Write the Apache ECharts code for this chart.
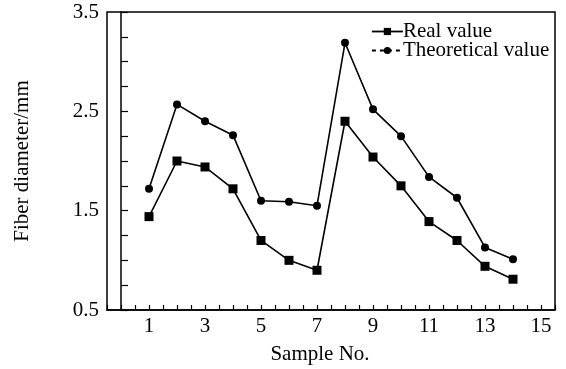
<!DOCTYPE html>
<html><head><meta charset="utf-8">
<script src="https://cdn.jsdelivr.net/npm/echarts@6/dist/echarts.min.js"></script>
<style>html,body{margin:0;padding:0;background:#fff}#c{width:566px;height:369px}</style>
</head><body><div id="c"></div>
<script>
const samples = [1,2,3,4,5,6,7,8,9,10,11,12,13,14];
const realValue = [1.44,2.00,1.94,1.72,1.20,1.00,0.90,2.40,2.04,1.75,1.39,1.20,0.94,0.81];
const theoreticalValue = [1.72,2.57,2.40,2.26,1.60,1.59,1.55,3.19,2.52,2.25,1.84,1.63,1.13,1.01];
const xTickLabels = [1,3,5,7,9,11,13,15];
const yTickLabels = [0.5,1.5,2.5,3.5];
const FONT = '"Liberation Serif", "Times New Roman", serif';

const chart = echarts.init(document.getElementById('c'), null, {renderer:'canvas'});
const lineStyle = {color:'#000', width:1.6};
chart.setOption({
  animation:false,
  backgroundColor:'#fff',
  grid:{left:107, right:11, top:12, bottom:59, outerBoundsMode:'none', containLabel:false,
    show:true, borderColor:'#000', borderWidth:1.5, backgroundColor:'transparent'},
  legend:{
    left:366, top:16, orient:'vertical', itemGap:-2, itemWidth:31, itemHeight:9,
    textStyle:{fontFamily:FONT, fontSize:21, color:'#000', padding:[0,0,0,-5]},
    data:[
      {name:'Real value', itemStyle:{color:'#000'}, lineStyle:{color:'#000', width:1.8}},
      {name:'Theoretical value', itemStyle:{color:'#000'}, lineStyle:{color:'#000', width:1.8, type:[4,4]}}
    ]
  },
  xAxis:{
    type:'value', min:-0.5, max:15.5, interval:0.5,
    name:'Sample No.', nameLocation:'middle', nameGap:34,
    nameTextStyle:{fontFamily:FONT, fontSize:21, color:'#000', padding:[0,22,0,0]},
    axisLine:{lineStyle:{color:'#000', width:1.5}},
    axisTick:{inside:true, length:5, lineStyle:{color:'#000', width:1.2}},
    splitLine:{show:false},
    axisLabel:{fontFamily:FONT, fontSize:21, color:'#000', margin:6,
      formatter:v => xTickLabels.includes(v) ? String(v) : ''}
  },
  yAxis:{
    type:'value', min:0.5, max:3.5, interval:0.25,
    name:'Fiber diameter/mm', nameLocation:'middle', nameGap:74,
    nameTextStyle:{fontFamily:FONT, fontSize:21, color:'#000'},
    axisLine:{lineStyle:{color:'#000', width:1.5}},
    axisTick:{inside:true, length:7, lineStyle:{color:'#000', width:1.2}},
    splitLine:{show:false},
    axisLabel:{fontFamily:FONT, fontSize:21, color:'#000', margin:8,
      formatter:v => yTickLabels.some(t => Math.abs(t-v)<1e-6) ? v.toFixed(1) : ''}
  },
  series:[
    {name:'Real value', type:'line', data:samples.map((s,i)=>[s, realValue[i]]),
     symbol:'rect', symbolSize:9, lineStyle:lineStyle, itemStyle:{color:'#000'}},
    {name:'Theoretical value', type:'line', data:samples.map((s,i)=>[s, theoreticalValue[i]]),
     symbol:'circle', symbolSize:8, lineStyle:lineStyle, itemStyle:{color:'#000'}}
  ]
});
</script></body></html>
